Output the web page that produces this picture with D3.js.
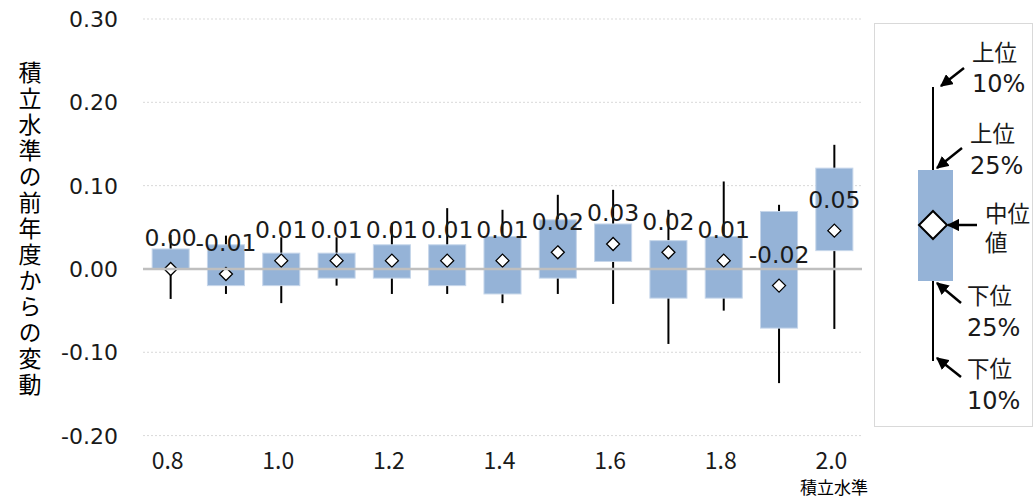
<!DOCTYPE html>
<html>
<head>
<meta charset="utf-8">
<script src="https://cdn.jsdelivr.net/npm/d3@7"></script>
<style>
  body { margin: 0; background: #fff; }
  svg { display: block; }
  .num { font-family: "DejaVu Sans", Verdana, sans-serif; }
  .jp { font-family: "Noto Sans CJK JP", sans-serif; }
</style>
</head>
<body>
<svg id="chart" width="1035" height="499"></svg>
<script>
// 積立水準ごとの前年度からの変動（分位点）
const levels = ["0.8", "0.9", "1.0", "1.1", "1.2", "1.3", "1.4", "1.5", "1.6", "1.7", "1.8", "1.9", "2.0"];
const p10 = [-0.036, -0.030, -0.041, -0.020, -0.030, -0.030, -0.041, -0.030, -0.042, -0.090, -0.050, -0.137, -0.072];
const p25 = [0.000, -0.020, -0.020, -0.011, -0.011, -0.020, -0.030, -0.011, 0.009, -0.035, -0.035, -0.071, 0.022];
const median = [0.000, -0.006, 0.010, 0.010, 0.010, 0.010, 0.010, 0.020, 0.030, 0.020, 0.010, -0.020, 0.046];
const p75 = [0.024, 0.029, 0.019, 0.019, 0.029, 0.029, 0.039, 0.059, 0.054, 0.034, 0.039, 0.069, 0.121];
const p90 = [0.041, 0.040, 0.038, 0.038, 0.055, 0.073, 0.071, 0.089, 0.095, 0.071, 0.105, 0.077, 0.149];
const xTickLabels = ["0.8", "1.0", "1.2", "1.4", "1.6", "1.8", "2.0"];
const yTicks = [-0.20, -0.10, 0.00, 0.10, 0.20, 0.30];

const rows = levels.map((k, i) => ({ k, lo: p10[i], q1: p25[i], med: median[i], q3: p75[i], hi: p90[i] }));

const svg = d3.select("#chart");
const boxColor = "#95b3d7";

const x = d3.scaleBand().domain(levels).range([143, 862]).paddingInner(0.33).paddingOuter(0.165);
const y = d3.scaleLinear().domain([-0.20, 0.30]).range([435.6, 19]);
const cx = d => x(d) + x.bandwidth() / 2;
const fmt = v => d3.format(".2f")(v).replace("\u2212", "-"); // 普通のハイフンにする

// 目盛線
svg.append("g").selectAll("line")
  .data(yTicks.filter(t => t !== 0))
  .join("line")
  .attr("x1", 143).attr("x2", 862)
  .attr("y1", d => y(d)).attr("y2", d => y(d))
  .attr("stroke", "#d9d9d9").attr("stroke-width", 1).attr("stroke-dasharray", "2,2");

// y 軸ラベル
svg.append("g").selectAll("text")
  .data(yTicks)
  .join("text")
  .attr("class", "num")
  .attr("x", 118).attr("y", d => y(d))
  .attr("dy", "0.36em")
  .attr("text-anchor", "end")
  .attr("font-size", 22)
  .attr("fill", "#1a1a1a")
  .text(d => fmt(d));

// x 軸ラベル
svg.append("g").selectAll("text")
  .data(xTickLabels)
  .join("text")
  .attr("class", "jp")
  .attr("x", d => cx(d) - 3).attr("y", 469)
  .attr("text-anchor", "middle")
  .attr("font-size", 23)
  .attr("fill", "#1a1a1a")
  .text(d => d);

svg.append("text").attr("class", "jp")
  .attr("x", 834).attr("y", 494)
  .attr("text-anchor", "middle")
  .attr("font-size", 17)
  .text("積立水準");

// y 軸タイトル（縦書き）
svg.append("text").attr("class", "jp")
  .attr("x", 30).attr("y", 230)
  .attr("text-anchor", "middle")
  .attr("font-size", 23)
  .style("writing-mode", "vertical-rl")
  .style("text-orientation", "upright")
  .style("letter-spacing", "3px")
  .text("積立水準の前年度からの変動");

// ひげ
const g = svg.append("g");
g.selectAll("line.whisker")
  .data(rows)
  .join("line")
  .attr("class", "whisker")
  .attr("x1", d => cx(d.k)).attr("x2", d => cx(d.k))
  .attr("y1", d => y(d.lo)).attr("y2", d => y(d.hi))
  .attr("stroke", "#000").attr("stroke-width", 2);

// 箱
g.selectAll("rect.box")
  .data(rows)
  .join("rect")
  .attr("class", "box")
  .attr("x", d => x(d.k))
  .attr("width", x.bandwidth())
  .attr("y", d => y(d.q3))
  .attr("height", d => y(d.q1) - y(d.q3))
  .attr("fill", boxColor)
  .attr("stroke", "#c6d6ea").attr("stroke-width", 1);

// 0 線
svg.append("line")
  .attr("x1", 143).attr("x2", 862)
  .attr("y1", y(0)).attr("y2", y(0))
  .attr("stroke", "#bfbfbf").attr("stroke-width", 2.5);

// 中央値のひし形
const dia = r => `M0,${-r} L${r},0 L0,${r} L${-r},0 Z`;
g.selectAll("path.med")
  .data(rows)
  .join("path")
  .attr("class", "med")
  .attr("transform", d => `translate(${cx(d.k)},${y(d.med)})`)
  .attr("d", dia(6.5))
  .attr("fill", "#fff").attr("stroke", "#000").attr("stroke-width", 1.3);

// データラベル
g.selectAll("text.lbl")
  .data(rows)
  .join("text")
  .attr("class", "lbl num")
  .attr("x", d => cx(d.k))
  .attr("y", d => y(d.med) - 31)
  .attr("dy", "0.36em")
  .attr("text-anchor", "middle")
  .attr("font-size", 23.5)
  .attr("fill", "#1a1a1a")
  .text(d => fmt(d.med));

// 凡例
const lg = svg.append("g");
lg.append("rect")
  .attr("x", 874.5).attr("y", 23.5).attr("width", 158).attr("height", 403)
  .attr("fill", "#fff").attr("stroke", "#d9d9d9");

svg.append("defs").append("marker")
  .attr("id", "ah")
  .attr("viewBox", "0 0 10 10")
  .attr("refX", 9).attr("refY", 5)
  .attr("markerWidth", 5).attr("markerHeight", 5)
  .attr("markerUnits", "strokeWidth")
  .attr("orient", "auto")
  .append("path").attr("d", "M0,0 L10,5 L0,10 Z").attr("fill", "#000");

lg.append("line").attr("x1", 933).attr("x2", 933).attr("y1", 87).attr("y2", 361)
  .attr("stroke", "#000").attr("stroke-width", 2);
lg.append("rect").attr("x", 918).attr("y", 170).attr("width", 35).attr("height", 111)
  .attr("fill", boxColor);
lg.append("path").attr("transform", "translate(933,225)").attr("d", dia(14))
  .attr("fill", "#fff").attr("stroke", "#000").attr("stroke-width", 2);

const arrows = [
  [964, 68, 941, 86],
  [962, 148, 937, 168],
  [977, 225, 948, 225],
  [961, 303, 937, 283],
  [961, 377, 937, 358]
];
lg.selectAll("line.arr")
  .data(arrows)
  .join("line")
  .attr("class", "arr")
  .attr("x1", d => d[0]).attr("y1", d => d[1])
  .attr("x2", d => d[2]).attr("y2", d => d[3])
  .attr("stroke", "#000").attr("stroke-width", 2.5)
  .attr("marker-end", "url(#ah)");

const legendText = [
  ["上位", 972, 53, "jp", 22.5], ["10%", 972, 83, "num", 24],
  ["上位", 970, 134, "jp", 22.5], ["25%", 970, 165, "num", 24],
  ["中位", 985, 214, "jp", 22.5], ["値", 985, 243, "jp", 22.5],
  ["下位", 967, 296, "jp", 22.5], ["25%", 967, 327, "num", 24],
  ["下位", 967, 369, "jp", 22.5], ["10%", 967, 400, "num", 24]
];
lg.selectAll("text")
  .data(legendText)
  .join("text")
  .attr("class", d => d[3])
  .attr("x", d => d[1]).attr("y", d => d[2])
  .attr("dy", "0.36em")
  .attr("font-size", d => d[4])
  .attr("fill", "#1a1a1a")
  .text(d => d[0]);
</script>
</body>
</html>
